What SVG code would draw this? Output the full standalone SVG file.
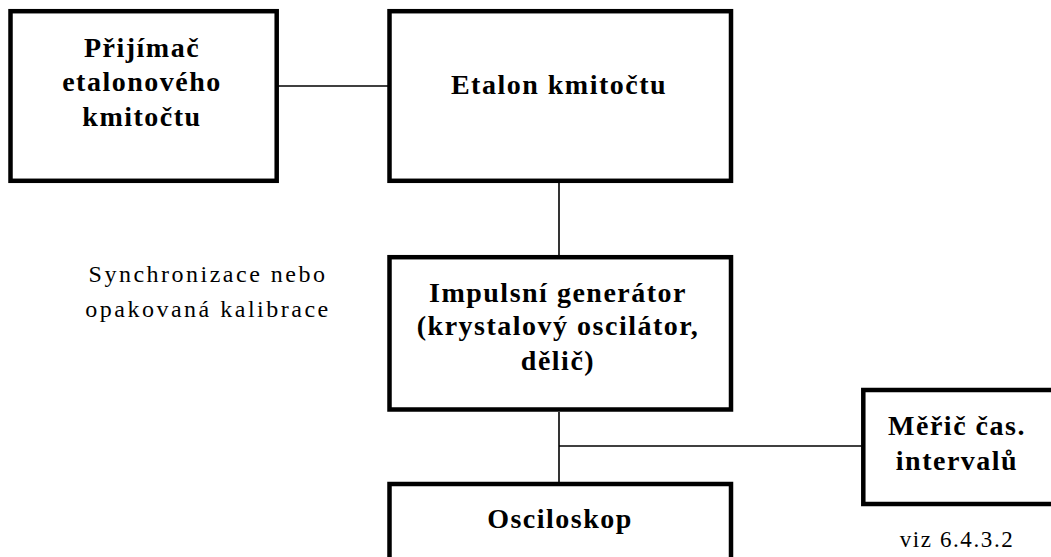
<svg xmlns="http://www.w3.org/2000/svg" width="1051" height="557" viewBox="0 0 1051 557">
<style>
.box{fill:#fff;stroke:#000;stroke-width:4.5}
.b{font-family:"Liberation Serif","Times New Roman",serif;font-weight:bold;font-size:28px;letter-spacing:1.5px;text-anchor:middle;fill:#000}
.r{font-family:"Liberation Serif","Times New Roman",serif;font-size:24px;letter-spacing:2.5px;text-anchor:middle;fill:#000}
.c{stroke:#000;stroke-width:1.6;fill:none}
</style>
<rect width="1051" height="557" fill="#fff"/>
<g id="connectors">
<line class="c" x1="278" y1="86" x2="388" y2="86"/>
<line class="c" x1="559" y1="183" x2="559" y2="255"/>
<line class="c" x1="559" y1="412" x2="559" y2="482"/>
<line class="c" x1="559" y1="446" x2="862" y2="446"/>
</g>
<g id="prijimac">
<rect class="box" x="10.5" y="11.2" width="266.2" height="169.6"/>
<text class="b" x="142" y="57">Přijímač</text>
<text class="b" x="142" y="91">etalonového</text>
<text class="b" x="142" y="126">kmitočtu</text>
</g>
<g id="etalon">
<rect class="box" x="389.5" y="11.2" width="341.5" height="169.6"/>
<text class="b" x="559" y="94">Etalon kmitočtu</text>
</g>
<g id="generator">
<rect class="box" x="389.5" y="257.2" width="341.5" height="152.3"/>
<text class="b" x="558" y="302">Impulsní generátor</text>
<text class="b" x="558" y="335">(krystalový oscilátor,</text>
<text class="b" x="558" y="370">dělič)</text>
</g>
<g id="osciloskop">
<rect class="box" x="389.5" y="484" width="341.5" height="120"/>
<text class="b" x="560" y="528">Osciloskop</text>
</g>
<g id="meric">
<rect class="box" x="863.3" y="390" width="200" height="114"/>
<text class="b" x="957" y="435">Měřič čas.</text>
<text class="b" x="957" y="470">intervalů</text>
</g>
<text class="r" x="957" y="547" style="font-size:23px;letter-spacing:1.6px">viz 6.4.3.2</text>
<text class="r" x="208" y="282">Synchronizace nebo</text>
<text class="r" x="208" y="317">opakovaná kalibrace</text>
</svg>
